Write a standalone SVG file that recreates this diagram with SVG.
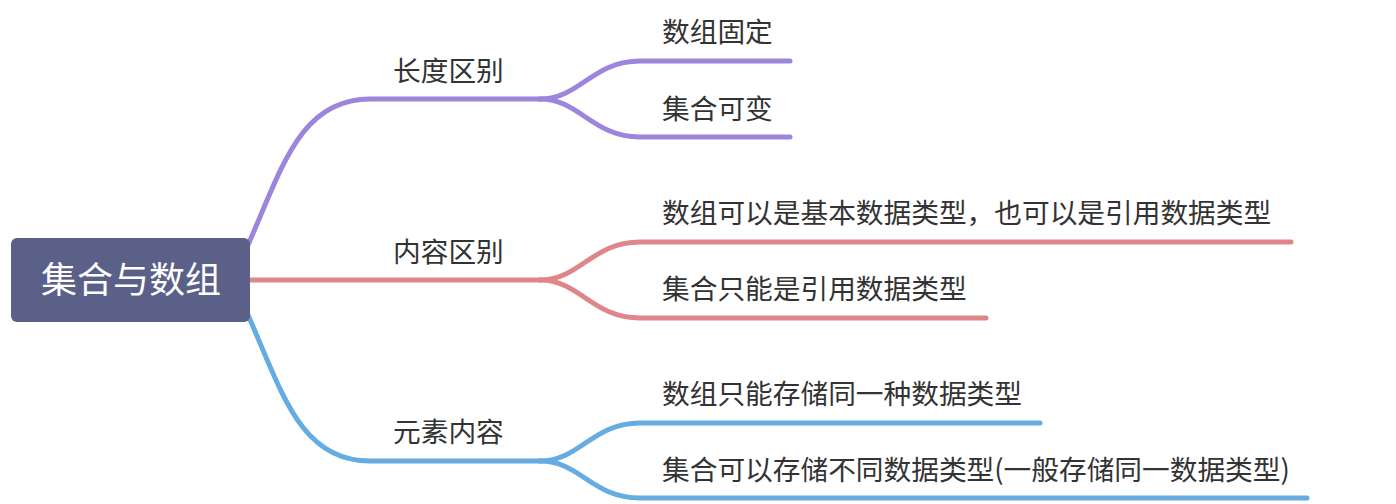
<svg xmlns="http://www.w3.org/2000/svg" width="1396" height="504" viewBox="0 0 1396 504">
<style>
.t{font-family:"Noto Sans CJK SC","Noto Sans",sans-serif;font-size:27.7px;fill:#333333}
.c{fill:none;stroke-width:5;stroke-linecap:round;stroke-linejoin:round}
.p{stroke:#9d84dd}.r{stroke:#e0858a}.b{stroke:#64ace2}
</style>
<rect width="1396" height="504" fill="#ffffff"/>
<g id="connectors">
<path class="c p" d="M248 245 C282 168 300 99 370 99 L540 99"/>
<path class="c p" d="M540 99 C580 99 592 61 640 61 L790 61"/>
<path class="c p" d="M540 99 C580 99 592 137 640 137 L790 137"/>
<path class="c r" d="M248 280 L540 280"/>
<path class="c r" d="M540 280 C580 280 592 242 640 242 L1291 242"/>
<path class="c r" d="M540 280 C580 280 592 318 640 318 L986 318"/>
<path class="c b" d="M248 315 C282 392 300 461 370 461 L540 461"/>
<path class="c b" d="M540 461 C580 461 592 423 640 423 L1040 423"/>
<path class="c b" d="M540 461 C580 461 592 498 640 498 L1307 498"/>
</g>
<g id="root">
<rect x="11" y="238" width="239" height="84" rx="6" fill="#5a6088"/>
<text x="131" y="293" text-anchor="middle" style="font-family:'Noto Sans CJK SC','Noto Sans',sans-serif;font-size:36px;fill:#ffffff">集合与数组</text>
</g>
<g id="n1"><text class="t" x="393" y="81">长度区别</text></g>
<g id="n1a"><text class="t" x="662" y="42">数组固定</text></g>
<g id="n1b"><text class="t" x="662" y="119">集合可变</text></g>
<g id="n2"><text class="t" x="393" y="262">内容区别</text></g>
<g id="n2a"><text class="t" x="662" y="223">数组可以是基本数据类型，也可以是引用数据类型</text></g>
<g id="n2b"><text class="t" x="662" y="299">集合只能是引用数据类型</text></g>
<g id="n3"><text class="t" x="393" y="442">元素内容</text></g>
<g id="n3a"><text class="t" x="662" y="404">数组只能存储同一种数据类型</text></g>
<g id="n3b"><text class="t" x="662" y="480">集合可以存储不同数据类型(一般存储同一数据类型)</text></g>
</svg>
